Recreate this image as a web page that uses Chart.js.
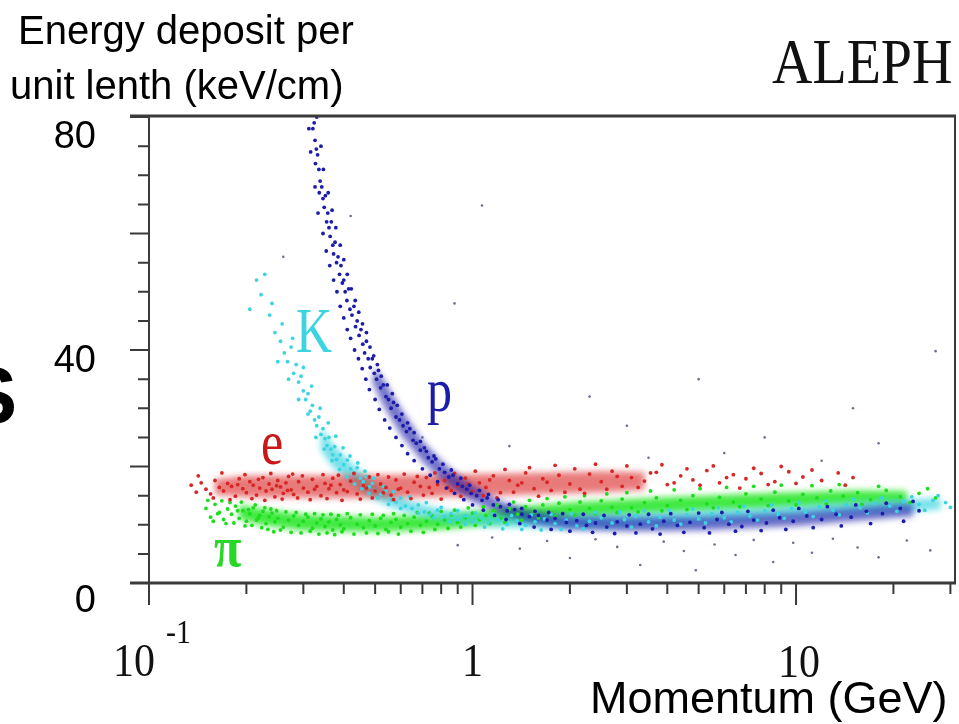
<!DOCTYPE html>
<html>
<head>
<meta charset="utf-8">
<script src="https://cdn.jsdelivr.net/npm/chart.js@4.4.0/dist/chart.umd.min.js"></script>
<style>
  html, body { margin: 0; padding: 0; background: #fff; }
  #caixa { width: 959px; height: 724px; position: relative; }
</style>
</head>
<body>
<div id="caixa"><canvas id="grafico" width="959" height="724"></canvas></div>
<script>
// ---- dados (momento em GeV, dE/dx em keV/cm) ----

// eixos
const xMajor = [0.1, 1, 10];
const xMinor = [0.2, 0.3, 0.4, 0.5, 0.6, 0.7, 0.8, 0.9, 2, 3, 4, 5, 6, 7, 8, 9, 20, 30];
const yMajor = [0, 20, 40, 60, 80];
const yMinor = [5, 10, 15, 25, 30, 35, 45, 50, 55, 65, 70, 75];
const yLabels = [0, 40, 80];

// eletrons (e)
const eletrons = [
  [0.135,16.8],[0.14,15.6],[0.145,17.2],[0.15,16.1],[0.155,15.3],[0.16,17.6],[0.165,16.4],[0.17,15.8],
  [0.175,17.1],[0.18,16.6],[0.185,14.9],[0.19,17.9],[0.195,16.2],[0.2,15.5],[0.205,17.4],[0.21,16.8],
  [0.215,15.1],[0.22,16.3],[0.225,18.1],[0.23,15.8],[0.235,17],[0.24,16.1],[0.245,14.8],[0.25,17.6],
  [0.255,16.5],[0.26,15.4],[0.265,17.2],[0.27,18.3],[0.275,16],[0.28,15.2],[0.29,17.4],[0.3,16.3],
  [0.31,15.6],[0.32,17.8],[0.33,16.6],[0.34,15],[0.35,17.1],[0.36,16.2],[0.37,18],[0.38,15.5],
  [0.39,16.9],[0.4,16],[0.42,17.5],[0.44,15.3],[0.46,16.7],[0.48,18.2],[0.5,15.8],[0.52,17],
  [0.54,16.4],[0.56,15.1],[0.58,17.7],[0.6,16.3],[0.63,15.6],[0.66,17.3],[0.69,16.6],[0.72,18.1],
  [0.75,15.4],[0.78,16.9],[0.82,17.6],[0.86,15.9],[0.9,16.7],[0.95,18],[1.0,15.7],[1.05,17.2],
  [1.1,16.4],[1.16,18.4],[1.22,15.5],[1.3,17.6],[1.38,16.8],[1.46,18.9],[1.55,16.2],[1.65,17.9],
  [1.75,15.9],[1.85,18.5],[2.0,17],[2.15,16.1],[2.3,18.7],[2.5,17.4],[2.7,19.2],[2.9,16.6],
  [3.1,18.1],[3.4,17.5],[3.7,19],[4.0,16.9],[4.4,18.4],[4.8,17.7],[5.3,19.3],[5.8,17.2],
  [6.4,18.6],[7.0,17.9],[7.8,18.8],[8.6,17.4],[9.5,19.1],[10.5,18.2],[12,17.6],[13.5,18.9],[15,18.1],
  [0.142,18.4],[0.158,14.6],[0.168,18.9],[0.178,14.3],[0.188,16.9],[0.198,18.6],[0.208,14.5],[0.218,17.8],
  [0.228,14.2],[0.238,18.8],[0.248,16.7],[0.258,14.4],[0.268,15.9],[0.278,18.7],[0.288,14.6],[0.298,18.4],
  [0.315,14.3],[0.325,16.1],[0.345,18.6],[0.355,14.5],[0.365,16.8],[0.385,18.5],[0.395,14.2],[0.41,15.7],
  [0.43,18.8],[0.45,14.4],[0.47,16.3],[0.49,14.6],[0.51,18.6],[0.53,15.5],[0.55,18.2],[0.57,14.3],
  [0.59,16.1],[0.615,18.7],[0.645,14.5],[0.675,18.3],[0.705,15.1],[0.735,16.4],[0.765,18.9],[0.8,14.4],
  [0.84,16.4],[0.88,18.8],[0.92,14.9],[0.97,17],[1.02,19.2],[1.08,15],[1.13,17.7],[1.19,14.6],
  [1.26,19.5],[1.34,15.6],[1.42,17.2],[1.5,19.8],[1.6,14.9],[1.7,17.3],[1.8,20.2],[1.93,15.6],
  [2.07,19.6],[2.22,15.4],[2.4,20.4],[2.6,16.1],[2.8,18.3],[3.0,20.1],[3.25,16.4],[3.55,18.9],
  [3.85,20.3],[4.2,17.2],[4.6,19.6],[5.05,16.8],[5.55,20.1],[6.1,18.1],[6.7,16.3],[7.4,19.7],
  [8.2,16.9],[9,20],[10,17.1],[11.2,19.4],[14.2,16.8]
];

// pions (π)
const pions = [
  [0.15,12.8],[0.155,11.3],[0.16,13.5],[0.165,12.1],[0.17,10.9],[0.175,12.7],[0.18,11.8],[0.185,13.2],
  [0.19,11.1],[0.195,12.4],[0.2,10.6],[0.205,11.9],[0.21,12.9],[0.215,10.8],[0.22,11.6],[0.225,12.3],
  [0.23,10.2],[0.235,11.4],[0.24,12],[0.245,10.5],[0.25,11.1],[0.26,9.6],[0.27,10.8],[0.28,11.5],
  [0.29,9.9],[0.3,10.6],[0.31,11.3],[0.32,9.4],[0.33,10.3],[0.34,11],[0.35,9.7],[0.36,10.5],
  [0.37,9.1],[0.38,10.9],[0.39,10],[0.4,9.3],[0.42,11.2],[0.44,10.1],[0.46,9.5],[0.48,10.7],
  [0.5,9.8],[0.52,11.1],[0.54,9.2],[0.56,10.4],[0.58,10.9],[0.6,9.6],[0.63,10.2],[0.66,11.3],
  [0.69,9.9],[0.72,10.6],[0.75,11.5],[0.78,10.1],[0.82,10.8],[0.86,11.7],[0.9,10.4],[0.95,11.2],
  [1.0,12],[1.05,10.9],[1.1,11.6],[1.16,12.4],[1.22,11.1],[1.3,12.7],[1.38,11.8],[1.46,13.1],
  [1.55,12.2],[1.65,13.4],[1.75,12],[1.85,13.7],[2.0,12.6],[2.15,13.9],[2.3,12.8],[2.5,14.1],
  [2.7,13],[2.9,14.4],[3.1,12.9],[3.4,13.8],[3.7,14.6],[4.0,13.3],[4.4,14.2],[4.8,15],
  [5.3,13.6],[5.8,14.7],[6.4,13.9],[7.0,15.3],[7.8,14.4],[8.6,15.6],[9.5,14.1],[10.5,15.2],
  [11.6,14.6],[12.8,15.8],[14,14.9],[15.5,15.5],[17,14.3],[19,15.9],[21,14.8],[24,15.4],[27,14.6],
  [0.152,14.2],[0.158,10.6],[0.163,11.9],[0.168,14.1],[0.173,10.2],[0.178,13.8],[0.183,10.3],[0.188,12.4],
  [0.193,13.9],[0.198,9.8],[0.203,12.6],[0.208,9.9],[0.213,13.4],[0.218,11.2],[0.223,9.5],[0.228,12.9],
  [0.233,9.2],[0.238,12.7],[0.243,8.8],[0.248,12.4],[0.255,9.1],[0.265,12.2],[0.275,8.7],[0.285,12.1],
  [0.295,8.6],[0.305,11.8],[0.315,8.9],[0.325,11.9],[0.335,8.4],[0.345,11.7],[0.355,8.6],[0.365,11.8],
  [0.375,8.3],[0.385,11.6],[0.395,8.8],[0.41,11.9],[0.43,8.4],[0.45,11.7],[0.47,8.6],[0.49,11.8],
  [0.51,8.5],[0.53,11.6],[0.55,8.8],[0.57,11.9],[0.59,8.4],[0.615,11.6],[0.645,8.9],[0.675,12.1],
  [0.705,8.7],[0.735,12],[0.765,9.2],[0.8,12.3],[0.84,9.4],[0.88,12.5],[0.92,9.6],[0.97,12.9],
  [1.02,9.9],[1.08,13.1],[1.13,10.2],[1.19,13.4],[1.26,10.4],[1.34,13.9],[1.42,10.8],[1.5,14.2],
  [1.6,11.2],[1.7,14.5],[1.8,11.4],[1.93,14.8],[2.07,11.6],[2.22,15],[2.4,11.9],[2.6,15.3],
  [2.8,12.1],[3.0,15.5],[3.25,12.2],[3.55,15.8],[3.85,12.4],[4.2,16],[4.6,12.6],[5.05,16.2],
  [5.55,12.9],[6.1,16.4],[6.7,13.1],[7.4,16.6],[8.2,13.3],[9,16.8],[10,13.4],[11.2,16.7],
  [12.4,13.6],[13.6,16.9],[16,13.5],[18,16.6],[22.5,13.8],[25.5,16.2]
];

// kaons (K)
const kaons = [
  [0.215,52],[0.222,49.5],[0.236,46],[0.245,43],[0.255,41.5],[0.262,39.5],[0.268,38],[0.275,40.5],
  [0.28,36],[0.285,37.5],[0.29,34.5],[0.295,35.5],[0.3,33],[0.305,31.5],[0.31,32.5],[0.315,29.5],
  [0.32,30.5],[0.325,28],[0.33,27],[0.335,28.5],[0.34,25.5],[0.345,26.5],[0.35,24.8],[0.355,23.6],
  [0.36,25],[0.365,23],[0.37,22],[0.375,23.4],[0.38,21.2],[0.39,22],[0.4,20.3],[0.41,21.1],
  [0.42,19.6],[0.43,18.9],[0.44,19.8],[0.45,18],[0.46,17.4],[0.47,18.3],[0.48,16.5],[0.49,17.1],
  [0.5,15.9],[0.52,15.2],[0.54,15.8],[0.56,14.3],[0.58,13.9],[0.6,14.6],[0.62,13.2],[0.65,12.8],
  [0.68,13.4],[0.71,12.2],[0.74,11.8],[0.78,12.5],[0.82,11.4],[0.86,11.9],[0.9,10.9],[0.95,11.5],
  [1.0,10.6],[1.06,11.2],[1.12,10.3],[1.2,10.9],[1.28,10.1],[1.37,10.7],[1.46,9.9],[1.56,10.5],
  [1.67,11],[1.8,10.2],[1.95,10.8],[2.1,9.8],[2.3,10.6],[2.5,11.2],[2.7,10.3],[2.95,10.9],
  [3.2,11.5],[3.5,10.5],[3.8,11.3],[4.2,10.8],[4.6,11.7],[5.0,11],[5.5,11.9],[6.0,11.2],
  [6.6,12.1],[7.2,11.5],[8.0,12.4],[8.8,11.8],[9.7,12.8],[10.7,12.2],[11.8,13.1],[13,12.5],
  [14.3,13.4],[15.8,12.9],[17.5,13.7],[19.5,13.2],[21.5,14],[24,13.5],[26.5,14.2],[29,13.8],
  [0.205,47],[0.228,53],[0.24,48],[0.25,38],[0.258,44.5],[0.27,35],[0.278,42],[0.29,31.5],
  [0.3,37],[0.31,29],[0.318,33.8],[0.328,25],[0.338,30],[0.348,23],[0.358,27.5],[0.368,21],
  [0.378,25.2],[0.388,19.5],[0.398,23.2],[0.408,18.2],[0.418,21.8],[0.432,17],[0.442,20.6],[0.455,16.2],
  [0.465,19.2],[0.478,15.4],[0.495,18],[0.51,14.6],[0.53,16.6],[0.55,13.5],[0.57,15.7],[0.6,12.8],
  [0.64,14.8],[0.68,12],[0.72,13.8],[0.76,11.2],[0.8,13],[0.85,10.5],[0.9,12.4],[0.95,10.1],
  [1.02,12],[1.09,9.6],[1.16,11.8],[1.24,9.3],[1.32,11.6],[1.42,9.2],[1.52,11.7],[1.63,9.1],
  [1.75,11.8],[1.88,9.2],[2.02,11.9],[2.2,9.3],[2.4,12.1],[2.6,9.5],[2.85,12.2],[3.1,9.6],
  [3.4,12.4],[3.7,9.8],[4.05,12.5],[4.4,10.1],[4.8,12.7],[5.25,10.3],[5.75,12.9],[6.3,10.5],
  [6.9,13.2],[7.6,10.8],[8.4,13.4],[9.2,11.1],[10.2,13.8],[11.3,11.4],[12.4,14.1],[13.6,11.7],
  [15,14.4],[16.6,12],[18.4,14.6],[20.5,12.3],[22.8,14.8],[25,12.5],[27.5,15],[30,13]
];

// protons (p)
const protons = [
  [0.318,80.5],[0.321,78],[0.324,79],[0.326,76],[0.329,74.5],[0.327,72],[0.332,73.5],[0.335,71],
  [0.338,69],[0.336,67],[0.342,68],[0.345,66],[0.348,64.5],[0.351,66.5],[0.354,62],[0.357,63.5],
  [0.36,61],[0.363,59.5],[0.366,62],[0.37,58],[0.372,56.5],[0.376,58.5],[0.38,55],[0.384,56],
  [0.388,53],[0.392,54.5],[0.396,51.5],[0.4,52],[0.404,50],[0.409,48.5],[0.414,50.5],[0.418,47],
  [0.424,46],[0.43,47.5],[0.435,44],[0.44,45],[0.446,42.5],[0.452,43.5],[0.458,41],[0.464,39.5],
  [0.47,41.5],[0.476,38.5],[0.483,37],[0.49,38.5],[0.497,36],[0.505,35],[0.512,36.5],[0.52,33.5],
  [0.53,34],[0.54,32],[0.55,31.5],[0.56,30],[0.57,31],[0.58,28.5],[0.595,28],[0.61,27],
  [0.625,26],[0.64,26.5],[0.655,24.5],[0.67,24],[0.69,22.8],[0.71,23.2],[0.73,21.5],[0.75,20.8],
  [0.77,21.3],[0.79,19.6],[0.82,19],[0.845,18.2],[0.87,18.5],[0.9,17],[0.93,16.6],[0.96,16.1],
  [0.99,15.4],[1.03,15],[1.07,14.2],[1.11,14.6],[1.16,13.4],[1.22,13.1],[1.28,12.4],[1.35,12.6],
  [1.42,11.8],[1.5,11.4],[1.6,11.6],[1.7,10.8],[1.8,11.1],[1.95,10.4],[2.1,10.7],[2.25,9.9],
  [2.4,10.3],[2.6,9.6],[2.8,10.5],[3.0,9.8],[3.3,10.1],[3.6,9.3],[3.9,10.6],[4.3,9.9],
  [4.7,10.4],[5.2,9.5],[5.7,10.9],[6.2,10.1],[6.8,9.7],[7.4,10.8],[8.1,10.3],[8.9,11.2],
  [9.8,10.6],[10.8,11.5],[12,10.9],[13.3,11.8],[14.8,11.3],[16.5,12.3],[18.5,11.9],[21,12.8],[24,12.4],
  [0.312,78],[0.33,80],[0.316,74],[0.34,75],[0.326,68],[0.346,71],[0.333,63.5],[0.358,67],
  [0.345,60],[0.368,64],[0.353,57],[0.378,61],[0.362,54.5],[0.39,58],[0.372,52],[0.4,55.5],
  [0.381,50],[0.41,53],[0.39,47.5],[0.422,50.5],[0.4,45.5],[0.434,48.5],[0.41,43.5],[0.445,46.5],
  [0.42,42],[0.457,44.5],[0.432,40],[0.47,43],[0.444,38.5],[0.482,40.5],[0.456,36.8],[0.495,39],
  [0.468,35],[0.508,37.5],[0.48,33.2],[0.522,35.5],[0.5,31.5],[0.545,34],[0.515,29.8],[0.565,32.5],
  [0.535,28],[0.585,30.5],[0.555,26.6],[0.605,29],[0.58,25],[0.63,27.5],[0.605,23.6],[0.66,25.8],
  [0.63,22.2],[0.69,24.3],[0.66,21],[0.72,22.6],[0.7,19.6],[0.76,21.8],[0.74,18.5],[0.81,20.4],
  [0.78,17.4],[0.86,19.4],[0.83,16.3],[0.92,18],[0.88,15.4],[0.98,16.8],[0.94,14.3],[1.05,15.9],
  [1.0,13.4],[1.12,15.2],[1.08,12.5],[1.2,14.3],[1.17,11.6],[1.3,13.5],[1.27,10.9],[1.42,12.8],
  [1.4,10.2],[1.56,12.3],[1.55,9.6],[1.72,12.1],[1.75,9.2],[1.9,11.9],[2.0,8.9],[2.2,11.8],
  [2.35,8.7],[2.55,11.6],[2.75,8.5],[3.05,11.7],[3.2,8.6],[3.5,11.8],[3.8,8.4],[4.1,11.9],
  [4.5,8.7],[5.0,12],[5.4,8.6],[5.9,12.1],[6.5,8.9],[7.1,12.3],[7.8,9],[8.5,12.5],
  [9.3,9.2],[10.2,12.8],[11.3,9.5],[12.5,13.1],[13.8,9.8],[15.3,13.4],[17,10.2],[19,13.7],
  [21.5,10.6],[23,14]
];

// pontos isolados fora das faixas
const avulsos = [
  [1.07,64.8],[0.88,48],[27,39.8],[2.3,32],[0.42,63],[0.26,56],
  [0.9,6.5],[1.15,7.8],[1.4,5.9],[1.7,7.2],[2.0,4.3],[2.4,7.5],[2.8,6.2],[3.3,3.1],[3.9,7.1],
  [4.5,5.5],[4.9,2.2],[5.6,6.6],[6.5,4.8],[7.4,7.4],[8.5,3.6],[9.8,6.9],[11.2,5.2],[13,7.6],
  [15.5,6.1],[18,4.4],[22,7.3],[26,5.6],
  [3.5,21.5],[6,22.3],[1.3,23.5],[12,21],[0.7,25],[18,24],[3,27],[5,35],[8,25],[15,30]
];

// contornos das faixas densas (borda superior e depois inferior)
const faixaE = [[0.16,17.8],[0.2,18.4],[0.4,18.5],[0.8,18.6],[1.5,18.9],[2.5,19.2],[3.4,19],
  [3.4,16],[2.5,15.6],[1.5,15.2],[0.8,14.8],[0.4,14.6],[0.2,14.7],[0.16,15.2]];
const faixaPi = [[0.19,13.4],[0.22,12.8],[0.3,11.7],[0.5,11.3],[0.8,11.7],[1.2,12.7],[2,13.8],[4,14.7],[8,15.4],[15,15.9],[22,15.8],
  [22,13.6],[15,13.4],[8,12.8],[4,12.1],[2,11.2],[1.2,10.2],[0.8,9.2],[0.5,8.8],[0.3,9],[0.22,10],[0.19,11]];
const faixaK = [[0.34,26.8],[0.37,23.8],[0.42,20.7],[0.48,17.8],[0.56,15.3],[0.68,13.6],[0.85,12.3],[1.2,11.6],[2,11.6],[4,12.2],[8,12.9],[15,13.9],[28,14.6],
  [28,12.6],[15,11.8],[8,10.8],[4,9.8],[2,9.4],[1.2,9.6],[0.85,10.4],[0.68,11.6],[0.56,13],[0.48,14.8],[0.42,17.2],[0.37,19.9],[0.34,22.8]];
const faixaP = [[0.5,37],[0.53,35],[0.6,30],[0.7,24.4],[0.8,21],[0.9,18.6],[1.0,16.8],[1.2,14.2],[1.5,12.4],[2,11.4],[3,11.2],[5,11.3],[10,12],[20,13.4],[23,13.6],
  [23,11.4],[20,11.2],[10,9.8],[5,9],[3,8.9],[2,9.2],[1.5,10.2],[1.2,12],[1.0,14],[0.9,15.6],[0.8,17.8],[0.7,20.8],[0.6,25.5],[0.53,30.5],[0.49,34.5]];

// ---- cores ----
const COR = {
  e: "rgb(215,38,38)", pi: "rgb(30,220,30)", k: "rgb(60,212,225)", p: "rgb(28,28,170)", avulso: "rgb(110,110,150)"
};

function pts(lista) { return lista.map(d => ({ x: d[0], y: d[1] })); }

function texto(ctx, s, x, y, fonte, cor, alinhar, sy) {
  ctx.save();
  ctx.font = fonte;
  ctx.fillStyle = cor;
  ctx.textAlign = alinhar || "left";
  ctx.textBaseline = "alphabetic";
  ctx.translate(x, y);
  ctx.scale(1, sy || 1);
  ctx.fillText(s, 0, 0);
  ctx.restore();
}

// faixas preenchidas (com borda esfumada) por baixo dos pontos
const pluginFaixas = {
  id: "faixas",
  beforeDatasetsDraw(chart) {
    const { ctx, scales: { x, y }, chartArea } = chart;
    const faixas = [
      [faixaPi, "rgba(30,230,30,0.85)"],
      [faixaK, "rgba(60,212,225,0.7)"],
      [faixaE, "rgba(220,40,40,0.62)"],
      [faixaP, "rgba(28,28,170,0.62)"]
    ];
    ctx.save();
    ctx.beginPath();
    ctx.rect(chartArea.left, chartArea.top, chartArea.right - chartArea.left, chartArea.bottom - chartArea.top);
    ctx.clip();
    ctx.filter = "blur(3px)";
    faixas.forEach(([poli, cor]) => {
      ctx.beginPath();
      poli.forEach((d, i) => {
        const px = x.getPixelForValue(d[0]), py = y.getPixelForValue(d[1]);
        if (i === 0) ctx.moveTo(px, py); else ctx.lineTo(px, py);
      });
      ctx.closePath();
      ctx.fillStyle = cor;
      ctx.fill();
    });
    ctx.restore();
  }
};

// moldura, marcas e textos
const pluginMoldura = {
  id: "moldura",
  afterDraw(chart) {
    const { ctx, scales: { x, y } } = chart;
    const esq = x.getPixelForValue(0.1), dir = 955;
    const topo = y.getPixelForValue(80), base = y.getPixelForValue(0);
    ctx.save();
    ctx.strokeStyle = "#3a3a3a";
    ctx.lineCap = "butt";

    // linhas horizontais (passam um pouco do eixo y)
    ctx.lineWidth = 3;
    ctx.beginPath();
    ctx.moveTo(130, topo - 1); ctx.lineTo(dir + 1, topo - 1);
    ctx.moveTo(130, base); ctx.lineTo(dir + 1, base);
    ctx.stroke();
    // verticais
    ctx.lineWidth = 2;
    ctx.beginPath();
    ctx.moveTo(esq, topo - 1); ctx.lineTo(esq, base + 22);
    ctx.moveTo(dir, topo - 1); ctx.lineTo(dir, base);
    ctx.stroke();

    // marcas do eixo y
    ctx.lineWidth = 2;
    ctx.beginPath();
    yMajor.forEach(v => { const py = y.getPixelForValue(v); ctx.moveTo(esq - 19, py); ctx.lineTo(esq, py); });
    yMinor.forEach(v => { const py = y.getPixelForValue(v); ctx.moveTo(esq - 11, py); ctx.lineTo(esq, py); });
    // marcas do eixo x
    xMajor.forEach(v => { const px = x.getPixelForValue(v); ctx.moveTo(px, base); ctx.lineTo(px, base + 22); });
    xMinor.forEach(v => { const px = x.getPixelForValue(v); ctx.moveTo(px, base); ctx.lineTo(px, base + 11); });
    ctx.stroke();
    ctx.restore();

    // rotulos do eixo y
    const fonteY = "38px 'Liberation Sans', Arial, sans-serif";
    const desloc = { 0: 29, 40: 22, 80: 31 };
    yLabels.forEach(v => {
      texto(ctx, String(v), 96, y.getPixelForValue(v) + desloc[v], fonteY, "#000", "right");
    });

    // rotulos do eixo x (serifados, esticados na vertical)
    const serif = "42px 'Liberation Serif', 'Times New Roman', serif";
    texto(ctx, "10", 113, 676, serif, "#111", "left", 1.12);
    texto(ctx, "-1", 166, 643, "30px 'Liberation Serif', serif", "#111", "left", 1.12);
    texto(ctx, "1", x.getPixelForValue(1), 676, serif, "#111", "center", 1.12);
    texto(ctx, "10", x.getPixelForValue(10) + 3, 677, serif, "#111", "center", 1.12);

    // titulos
    const sans = "40px 'Liberation Sans', Arial, sans-serif";
    texto(ctx, "Energy deposit per", 18, 44, sans, "#000");
    texto(ctx, "unit lenth (keV/cm)", 10, 99, sans, "#000");
    texto(ctx, "Momentum (GeV)", 590, 713, "45px 'Liberation Sans', Arial, sans-serif", "#000");
    texto(ctx, "ALEPH", 772, 83, "56px 'Liberation Serif', 'Times New Roman', serif", "#111", "left", 1.15);

    // letra cortada na margem esquerda
    texto(ctx, "S", 17, 423, "bold 80px 'Liberation Sans', Arial, sans-serif", "#000", "right");

    // nomes das particulas
    const part = "50px 'Liberation Serif', 'Times New Roman', serif";
    texto(ctx, "K", 296, 352, part, COR.k, "left", 1.25);
    texto(ctx, "p", 427, 411, part, COR.p, "left", 1.25);
    texto(ctx, "e", 261, 464, part, "rgb(200,24,24)", "left", 1.25);
    texto(ctx, "π", 214, 566, "bold 50px 'Liberation Serif', 'Times New Roman', serif", "rgb(40,215,40)", "left", 1.15);
  }
};

function conjunto(nome, dados, cor, raio, ordem) {
  return {
    label: nome,
    data: pts(dados),
    backgroundColor: cor,
    borderWidth: 0,
    pointRadius: raio,
    pointHoverRadius: raio,
    order: ordem
  };
}

new Chart(document.getElementById("grafico"), {
  type: "scatter",
  data: {
    datasets: [
      conjunto("p", protons, COR.p, 1.9, 1),
      conjunto("e", eletrons, COR.e, 1.9, 2),
      conjunto("K", kaons, COR.k, 1.9, 3),
      conjunto("π", pions, COR.pi, 1.9, 4),
      conjunto("outros", avulsos, COR.avulso, 1.3, 5)
    ]
  },
  options: {
    responsive: false,
    animation: false,
    devicePixelRatio: 1,
    layout: { padding: { left: 149, right: 4, top: 117, bottom: 141 } },
    plugins: { legend: { display: false }, tooltip: { enabled: false } },
    scales: {
      x: { type: "logarithmic", min: 0.1, max: 31, display: false },
      y: { type: "linear", min: 0, max: 80, display: false }
    }
  },
  plugins: [pluginFaixas, pluginMoldura]
});
</script>
</body>
</html>
